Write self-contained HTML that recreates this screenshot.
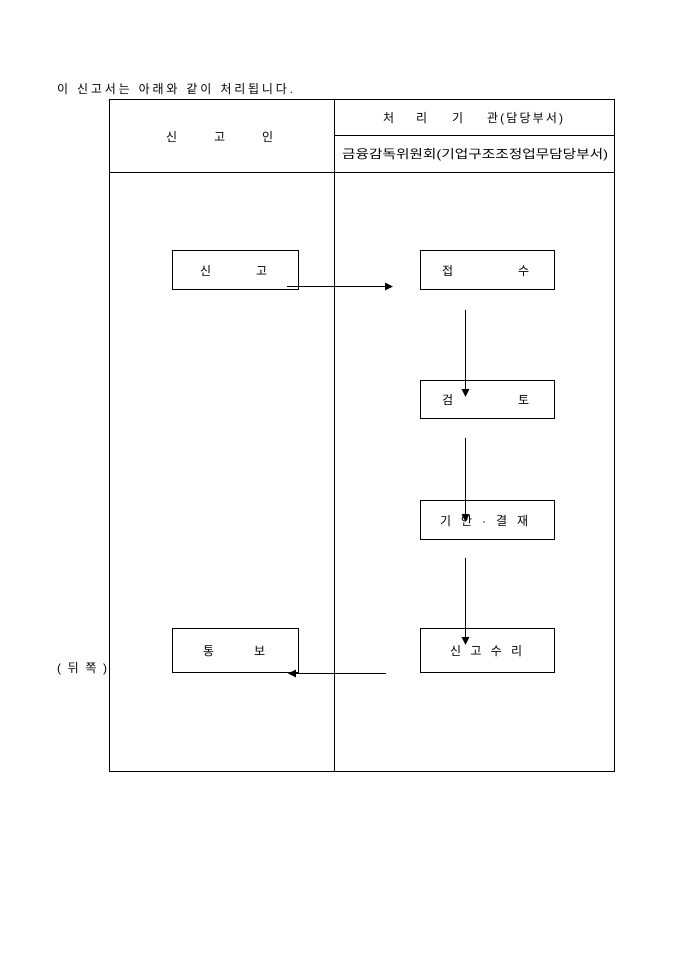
<!DOCTYPE html>
<html><head><meta charset="utf-8"><style>
html,body{margin:0;padding:0;background:#fff}
svg{display:block}
text{font-family:"Liberation Sans","Noto Sans CJK KR","NanumGothic",sans-serif;font-size:12px;fill:#000}
</style></head><body>
<svg width="680" height="962" viewBox="0 0 680 962" xmlns="http://www.w3.org/2000/svg">
<defs><marker id="a" markerWidth="8" markerHeight="8" refX="7" refY="4" orient="auto" markerUnits="userSpaceOnUse"><path d="M0,0 L8,4 L0,8 z" fill="#000"/></marker></defs>
<text x="57" y="93" textLength="236" lengthAdjust="spacing">이 신고서는 아래와 같이 처리됩니다.</text>
<g stroke="#000" stroke-width="1" fill="none">
<rect x="109.5" y="99.5" width="505" height="672"/>
<line x1="334.5" y1="99.5" x2="334.5" y2="771.5"/>
<line x1="334.5" y1="135.5" x2="614.5" y2="135.5"/>
<line x1="109.5" y1="172.5" x2="614.5" y2="172.5"/>
<rect x="172.5" y="250.5" width="126" height="39"/>
<rect x="420.5" y="250.5" width="134" height="39"/>
<rect x="420.5" y="380.5" width="134" height="38"/>
<rect x="420.5" y="500.5" width="134" height="39"/>
<rect x="420.5" y="628.5" width="134" height="44"/>
<rect x="172.5" y="628.5" width="126" height="44"/>
<line x1="287" y1="286.5" x2="392" y2="286.5" marker-end="url(#a)"/>
<line x1="465.5" y1="310" x2="465.5" y2="396" marker-end="url(#a)"/>
<line x1="465.5" y1="438" x2="465.5" y2="521" marker-end="url(#a)"/>
<line x1="465.5" y1="558" x2="465.5" y2="644" marker-end="url(#a)"/>
<line x1="386" y1="673.5" x2="289" y2="673.5" marker-end="url(#a)"/>
</g>
<text x="166" y="141">신</text><text x="214" y="141">고</text><text x="262" y="141">인</text>
<text x="383" y="122">처</text><text x="416" y="122">리</text><text x="452" y="122">기</text><text x="487" y="122" textLength="76" lengthAdjust="spacing">관(담당부서)</text>
<text x="342" y="158" textLength="266" lengthAdjust="spacingAndGlyphs">금융감독위원회(기업구조조정업무담당부서)</text>
<text x="200" y="275">신</text><text x="256" y="275">고</text>
<text x="442" y="275">접</text><text x="518" y="275">수</text>
<text x="442" y="404">검</text><text x="518" y="404">토</text>
<text x="440" y="525" textLength="88" lengthAdjust="spacing">기 안 · 결 재</text>
<text x="450" y="655" textLength="72" lengthAdjust="spacing">신 고 수 리</text>
<text x="203" y="655">통</text><text x="254" y="655">보</text>
<text x="57" y="672" textLength="50" lengthAdjust="spacing">(뒤쪽)</text>
</svg>
</body></html>
